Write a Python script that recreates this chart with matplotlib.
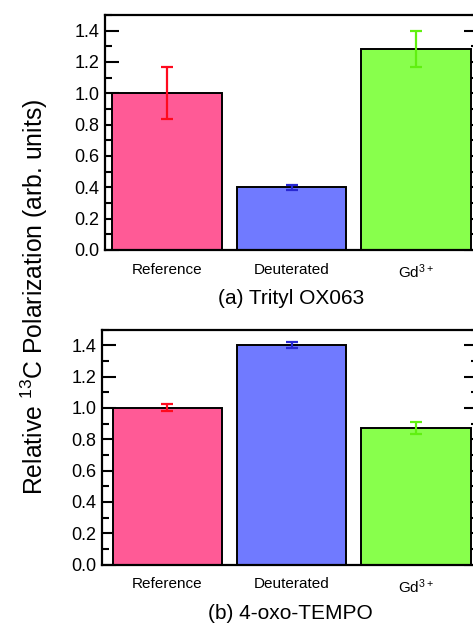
import numpy as np
import matplotlib
matplotlib.use('Agg')
import matplotlib.pyplot as plt
from matplotlib.ticker import MultipleLocator

plt.rcParams['font.family'] = ['Liberation Sans', 'DejaVu Sans']
plt.rcParams['mathtext.fontset'] = 'custom'
plt.rcParams['mathtext.rm'] = 'Liberation Sans'
plt.rcParams['mathtext.it'] = 'Liberation Sans'

# dados
amostras = ['Reference', 'Deuterated', 'Gd$^{3+}$']
trityl = [1.00, 0.40, 1.28]
trityl_err = [0.165, 0.018, 0.115]
tempo = [1.00, 1.40, 0.87]
tempo_err = [0.022, 0.020, 0.037]
titulos = ['(a) Trityl OX063', '(b) 4-oxo-TEMPO']

cores = ['#FF5A96', '#707AFF', '#88FF4C']
cores_err = ['#FF0A1E', '#2828D2', '#60F010']

fig = plt.figure(figsize=(4.73, 6.26), dpi=100)
ax1 = fig.add_axes([105/473, 1-250/626, 373/473, 235/626])
ax2 = fig.add_axes([102/473, 1-564.5/626, 376/473, 235/626])

x = np.arange(len(amostras))
for ax, vals, errs, tit, xl in [(ax1, trityl, trityl_err, titulos[0], -0.5),
                                (ax2, tempo, tempo_err, titulos[1], -0.526)]:
    ax.bar(x, vals, width=0.88, color=cores, edgecolor='black', linewidth=1.4, zorder=2)
    for i in range(len(x)):
        ax.errorbar(x[i], vals[i], yerr=errs[i], color=cores_err[i], elinewidth=1.6,
                    capsize=4.5, capthick=1.6, fmt='none', zorder=3)
    ax.set_xlim(xl, 2.5)
    ax.set_ylim(0, 1.5)
    ax.yaxis.set_minor_locator(MultipleLocator(0.1))
    ax.set_yticks(np.arange(0, 1.41, 0.2))
    ax.set_yticklabels(['%.1f' % v for v in np.arange(0, 1.41, 0.2)], fontsize=13)
    ax.tick_params(axis='y', which='both', direction='in', left=True, right=True, width=1.5)
    ax.tick_params(axis='y', which='major', length=10, pad=4)
    ax.tick_params(axis='y', which='minor', length=5)
    ax.set_xticks(x)
    ax.set_xticklabels(amostras, fontsize=11)
    ax.tick_params(axis='x', length=0, pad=9)
    ax.set_xlabel(tit, fontsize=15, labelpad=6)
    for s in ax.spines.values():
        s.set_linewidth(1.6)

fig.text(0.072, 0.525, 'Relative $^{13}$C Polarization (arb. units)', rotation=90,
         fontsize=17.8, ha='center', va='center')

fig.savefig('out.png', dpi=100)
